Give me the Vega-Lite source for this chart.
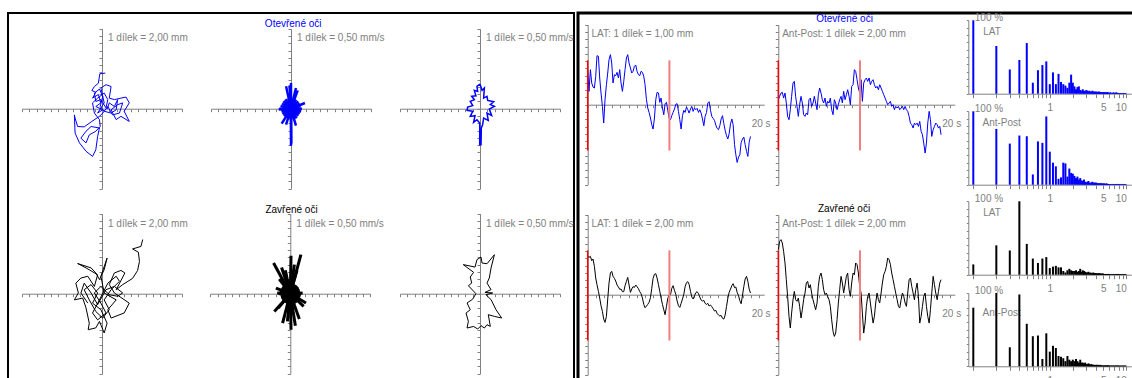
{
"$schema": "https://vega.github.io/schema/vega-lite/v6.json",
"padding": {"left": 7, "top": 10, "right": 0, "bottom": 0},
"background": "white",
"bounds": "flush",
"spacing": 4,
"config": {
  "font": "Liberation Sans",
  "axis": {"grid": false, "domainColor": "#808080", "tickColor": "#808080", "labelColor": "#808080", "titleColor": "#808080", "labelFont": "Liberation Sans", "titleFont": "Liberation Sans", "labelFontSize": 10, "titleFontSize": 10, "titleFontWeight": "normal", "labelOverlap": false, "labelFlush": false, "labelBound": false, "domainWidth": 1, "tickWidth": 1, "titlePadding": 0, "labels": false, "tickSize": 3}
},
"datasets": {
  "cop_o": [
    {"i":1,"x":0.9,"y":9.8},{"i":2,"x":-0.6,"y":9.6},{"i":3,"x":-1.0,"y":7.0},{"i":4,"x":-2.1,"y":6.1},{"i":5,"x":-2.8,"y":5.0},{"i":6,"x":-1.7,"y":4.5},{"i":7,"x":-2.6,"y":2.9},{"i":8,"x":-1.0,"y":3.9},{"i":9,"x":-0.3,"y":1.6},{"i":10,"x":-1.7,"y":0.6},
    {"i":11,"x":0.2,"y":-0.3},{"i":12,"x":-1.2,"y":-1.2},{"i":13,"x":0.6,"y":1.6},{"i":14,"x":-0.3,"y":5.7},{"i":15,"x":1.1,"y":6.6},{"i":16,"x":2.5,"y":6.1},{"i":17,"x":2.0,"y":2.9},{"i":18,"x":3.4,"y":2.5},{"i":19,"x":5.2,"y":2.9},{"i":20,"x":6.6,"y":3.2},
    {"i":21,"x":7.5,"y":1.6},{"i":22,"x":6.1,"y":-0.7},{"i":23,"x":7.5,"y":-3.5},{"i":24,"x":5.2,"y":-2.1},{"i":25,"x":3.9,"y":-3.0},{"i":26,"x":2.5,"y":-0.3},{"i":27,"x":4.3,"y":1.1},{"i":28,"x":5.7,"y":1.6},{"i":29,"x":4.8,"y":-1.2},{"i":30,"x":2.9,"y":-1.7},
    {"i":31,"x":1.6,"y":0.6},{"i":32,"x":0.2,"y":-1.2},{"i":33,"x":-0.7,"y":-2.1},{"i":34,"x":-2.8,"y":-3.5},{"i":35,"x":-4.9,"y":-5.0},{"i":36,"x":-6.7,"y":-4.9},{"i":37,"x":-7.4,"y":-2.6},{"i":38,"x":-7.6,"y":-1.7},{"i":39,"x":-7.4,"y":-6.7},{"i":40,"x":-6.2,"y":-9.4},
    {"i":41,"x":-4.4,"y":-11.7},{"i":42,"x":-2.6,"y":-13.1},{"i":43,"x":-1.7,"y":-11.3},{"i":44,"x":-1.2,"y":-7.6},{"i":45,"x":-0.7,"y":-5.3},{"i":46,"x":-3.0,"y":-4.9},{"i":47,"x":-4.4,"y":-6.2},{"i":48,"x":-5.8,"y":-8.1},{"i":49,"x":-4.4,"y":-9.4},{"i":50,"x":-3.5,"y":-7.2},
    {"i":51,"x":-1.7,"y":-6.2},{"i":52,"x":-0.5,"y":-4.9},{"i":53,"x":-0.7,"y":-3.0},{"i":54,"x":-2.1,"y":-1.2},{"i":55,"x":-2.6,"y":1.6},{"i":56,"x":-1.2,"y":2.9},{"i":57,"x":0.6,"y":4.3},{"i":58,"x":1.6,"y":2.5},{"i":59,"x":1.1,"y":0.2},{"i":60,"x":-0.3,"y":2.5},
    {"i":61,"x":-1.7,"y":2.0},{"i":62,"x":-2.1,"y":4.3},{"i":63,"x":-0.7,"y":5.4},{"i":64,"x":0.2,"y":3.4},{"i":65,"x":-0.5,"y":0.6},{"i":66,"x":0.6,"y":-0.7},{"i":67,"x":2.5,"y":-1.2},{"i":68,"x":3.9,"y":-0.3},{"i":69,"x":4.3,"y":2.5},{"i":70,"x":3.4,"y":0.6},
    {"i":71,"x":2.0,"y":1.6},{"i":72,"x":1.4,"y":-0.1}
  ],
  "cop_c": [
    {"i":1,"x":11.2,"y":14.9},{"i":2,"x":10.7,"y":13.0},{"i":3,"x":8.4,"y":12.3},{"i":4,"x":10.0,"y":11.4},{"i":5,"x":10.3,"y":8.9},{"i":6,"x":9.8,"y":6.4},{"i":7,"x":8.4,"y":4.2},{"i":8,"x":5.7,"y":2.5},{"i":9,"x":3.9,"y":1.1},{"i":10,"x":6.3,"y":5.7},
    {"i":11,"x":5.2,"y":6.4},{"i":12,"x":3.4,"y":5.7},{"i":13,"x":2.0,"y":2.5},{"i":14,"x":3.4,"y":0.2},{"i":15,"x":7.5,"y":-2.6},{"i":16,"x":6.1,"y":-5.3},{"i":17,"x":2.5,"y":-6.7},{"i":18,"x":1.6,"y":-4.4},{"i":19,"x":3.9,"y":-1.7},{"i":20,"x":0.6,"y":0.2},
    {"i":21,"x":-0.3,"y":4.8},{"i":22,"x":1.4,"y":9.8},{"i":23,"x":0.6,"y":6.6},{"i":24,"x":-0.7,"y":3.9},{"i":25,"x":-1.7,"y":5.7},{"i":26,"x":-3.0,"y":7.1},{"i":27,"x":-6.7,"y":8.3},{"i":28,"x":-4.4,"y":7.1},{"i":29,"x":-1.2,"y":5.2},{"i":30,"x":-2.1,"y":2.0},
    {"i":31,"x":-3.9,"y":4.8},{"i":32,"x":-5.8,"y":4.3},{"i":33,"x":-7.2,"y":2.9},{"i":34,"x":-6.5,"y":0.2},{"i":35,"x":-7.6,"y":-1.7},{"i":36,"x":-5.3,"y":-1.2},{"i":37,"x":-4.4,"y":-3.9},{"i":38,"x":-3.5,"y":-8.1},{"i":39,"x":-3.8,"y":-9.9},{"i":40,"x":-1.7,"y":-9.4},
    {"i":41,"x":-0.7,"y":-7.6},{"i":42,"x":0.6,"y":-10.8},{"i":43,"x":1.4,"y":-8.1},{"i":44,"x":-0.3,"y":-4.4},{"i":45,"x":-2.6,"y":-2.6},{"i":46,"x":-1.2,"y":0.2},{"i":47,"x":-3.0,"y":2.5},{"i":48,"x":-4.9,"y":1.1},{"i":49,"x":-3.5,"y":-1.7},{"i":50,"x":-1.7,"y":-4.9},
    {"i":51,"x":0.2,"y":-6.7},{"i":52,"x":2.0,"y":-4.4},{"i":53,"x":0.6,"y":-1.7},{"i":54,"x":2.5,"y":1.1},{"i":55,"x":4.8,"y":3.4},{"i":56,"x":3.9,"y":4.8},{"i":57,"x":1.6,"y":2.9},{"i":58,"x":-0.7,"y":-1.7},{"i":59,"x":-2.6,"y":-5.3},{"i":60,"x":-1.2,"y":-7.2},
    {"i":61,"x":1.1,"y":-5.3},{"i":62,"x":-0.3,"y":-2.6},{"i":63,"x":-2.1,"y":0.2},{"i":64,"x":-0.3,"y":2.0},{"i":65,"x":2.0,"y":-0.3},{"i":66,"x":4.3,"y":-0.7},{"i":67,"x":5.7,"y":0.2},{"i":68,"x":3.4,"y":2.0},{"i":69,"x":1.1,"y":1.1},{"i":70,"x":-1.2,"y":-3.0},
    {"i":71,"x":-3.0,"y":0.2},{"i":72,"x":-4.9,"y":2.9},{"i":73,"x":-5.8,"y":0.2},{"i":74,"x":-3.9,"y":-2.6}
  ],
  "vel_o": [
    {"vx":0.75,"vy":0,"o":0},{"vx":0.66,"vy":0.18,"o":0},{"vx":0.6,"vy":0.35,"o":0},{"vx":0.5,"vy":0.5,"o":0},{"vx":0.35,"vy":0.62,"o":0},{"vx":0.18,"vy":0.68,"o":0},{"vx":0,"vy":0.72,"o":0},{"vx":-0.19,"vy":0.7,"o":0},{"vx":-0.38,"vy":0.65,"o":0},{"vx":-0.52,"vy":0.52,"o":0},{"vx":-0.62,"vy":0.36,"o":0},{"vx":-0.72,"vy":0.19,"o":0},
    {"vx":-0.8,"vy":0,"o":0},{"vx":-0.66,"vy":-0.18,"o":0},{"vx":-0.6,"vy":-0.35,"o":0},{"vx":-0.5,"vy":-0.5,"o":0},{"vx":-0.36,"vy":-0.62,"o":0},{"vx":-0.2,"vy":-0.72,"o":0},{"vx":0,"vy":-0.75,"o":0},{"vx":0.2,"vy":-0.7,"o":0},{"vx":0.38,"vy":-0.66,"o":0},{"vx":0.5,"vy":-0.5,"o":0},{"vx":0.6,"vy":-0.35,"o":0},{"vx":0.7,"vy":-0.19,"o":0},
    {"vx":0.4,"vy":0,"o":0},{"vx":0.35,"vy":0.2,"o":0},{"vx":0.2,"vy":0.35,"o":0},{"vx":0,"vy":0.4,"o":0},{"vx":-0.2,"vy":0.35,"o":0},{"vx":-0.35,"vy":0.2,"o":0},{"vx":-0.4,"vy":0,"o":0},{"vx":-0.35,"vy":-0.2,"o":0},{"vx":-0.2,"vy":-0.35,"o":0},{"vx":0,"vy":-0.4,"o":0},{"vx":0.2,"vy":-0.35,"o":0},{"vx":0.35,"vy":-0.2,"o":0},
    {"vx":0,"vy":1.77,"o":0},{"vx":-0.34,"vy":1.54,"o":0},{"vx":0.34,"vy":1.42,"o":0},{"vx":0.46,"vy":1.26,"o":0},{"vx":0,"vy":-2.55,"o":0},{"vx":-0.64,"vy":-1.03,"o":0},{"vx":-0.34,"vy":-1.1,"o":0},{"vx":0.34,"vy":-1.17,"o":0},{"vx":0.96,"vy":0.39,"o":0},{"vx":-0.85,"vy":-0.05,"o":0},{"vx":0.02,"vy":-2.4,"o":0},{"vx":-0.1,"vy":1.6,"o":0}
  ],
  "vel_c": [
    {"vx":0.75,"vy":0,"o":0},{"vx":0.66,"vy":0.18,"o":0},{"vx":0.6,"vy":0.35,"o":0},{"vx":0.5,"vy":0.5,"o":0},{"vx":0.35,"vy":0.62,"o":0},{"vx":0.18,"vy":0.68,"o":0},{"vx":0,"vy":0.72,"o":0},{"vx":-0.19,"vy":0.7,"o":0},{"vx":-0.38,"vy":0.65,"o":0},{"vx":-0.52,"vy":0.52,"o":0},{"vx":-0.62,"vy":0.36,"o":0},{"vx":-0.72,"vy":0.19,"o":0},
    {"vx":-0.8,"vy":0,"o":0},{"vx":-0.66,"vy":-0.18,"o":0},{"vx":-0.6,"vy":-0.35,"o":0},{"vx":-0.5,"vy":-0.5,"o":0},{"vx":-0.36,"vy":-0.62,"o":0},{"vx":-0.2,"vy":-0.72,"o":0},{"vx":0,"vy":-0.75,"o":0},{"vx":0.2,"vy":-0.7,"o":0},{"vx":0.38,"vy":-0.66,"o":0},{"vx":0.5,"vy":-0.5,"o":0},{"vx":0.6,"vy":-0.35,"o":0},{"vx":0.7,"vy":-0.19,"o":0},
    {"vx":0.73,"vy":2.68,"o":0},{"vx":0.05,"vy":2.61,"o":0},{"vx":-1.15,"vy":2.11,"o":0},{"vx":-0.34,"vy":1.61,"o":0},{"vx":-0.76,"vy":1.01,"o":0},{"vx":0.46,"vy":1.61,"o":0},{"vx":0.28,"vy":2.0,"o":0},{"vx":-0.53,"vy":-2.02,"o":0},{"vx":0.05,"vy":-2.48,"o":0},{"vx":0.62,"vy":-1.74,"o":0},
    {"vx":-1.1,"vy":-1.22,"o":0},{"vx":-0.83,"vy":-0.99,"o":0},{"vx":0.92,"vy":-0.87,"o":0},{"vx":1.08,"vy":-0.64,"o":0},{"vx":0.85,"vy":0.05,"o":0},{"vx":-0.9,"vy":0.05,"o":0},{"vx":-0.99,"vy":0.39,"o":0},{"vx":-0.2,"vy":-1.9,"o":0},{"vx":0.35,"vy":-2.2,"o":0},{"vx":-0.6,"vy":1.8,"o":0}
  ],
  "env_o": [
    {"i":1,"vx":0,"vy":1.7},{"i":2,"vx":0.14,"vy":1.26},{"i":3,"vx":0.3,"vy":1.42},{"i":4,"vx":0.25,"vy":0.73},{"i":5,"vx":0.48,"vy":0.85},{"i":6,"vx":0.53,"vy":0.57},{"i":7,"vx":0.94,"vy":0.48},{"i":8,"vx":0.71,"vy":0.28},{"i":9,"vx":0.99,"vy":0.16},{"i":10,"vx":0.64,"vy":-0.02},
    {"i":11,"vx":0.8,"vy":-0.46},{"i":12,"vx":0.48,"vy":-0.3},{"i":13,"vx":0.57,"vy":-0.8},{"i":14,"vx":0.25,"vy":-0.64},{"i":15,"vx":0.18,"vy":-1.1},{"i":16,"vx":0.09,"vy":-1.33},{"i":17,"vx":0.07,"vy":-2.48},{"i":18,"vx":-0.02,"vy":-2.48},{"i":19,"vx":-0.02,"vy":-0.99},{"i":20,"vx":-0.21,"vy":-0.76},
    {"i":21,"vx":-0.44,"vy":-0.94},{"i":22,"vx":-0.34,"vy":-0.48},{"i":23,"vx":-0.67,"vy":-0.53},{"i":24,"vx":-0.5,"vy":-0.18},{"i":25,"vx":-0.89,"vy":-0.11},{"i":26,"vx":-0.85,"vy":0.11},{"i":27,"vx":-0.5,"vy":0.21},{"i":28,"vx":-0.67,"vy":0.5},{"i":29,"vx":-0.39,"vy":0.62},{"i":30,"vx":-0.57,"vy":0.85},
    {"i":31,"vx":-0.28,"vy":0.89},{"i":32,"vx":-0.39,"vy":1.26},{"i":33,"vx":-0.16,"vy":1.19},{"i":34,"vx":-0.21,"vy":1.54},{"i":35,"vx":0,"vy":1.7}
  ],
  "env_c": [
    {"i":1,"vx":0.07,"vy":2.52},{"i":2,"vx":0.14,"vy":2.11},{"i":3,"vx":0.48,"vy":2.06},{"i":4,"vx":0.99,"vy":2.68},{"i":5,"vx":0.76,"vy":1.77},{"i":6,"vx":0.64,"vy":1.08},{"i":7,"vx":0.48,"vy":0.73},{"i":8,"vx":0.76,"vy":0.28},{"i":9,"vx":0.34,"vy":0.09},{"i":10,"vx":0.87,"vy":0.05},
    {"i":11,"vx":0.41,"vy":-0.07},{"i":12,"vx":0.76,"vy":-0.41},{"i":13,"vx":1.1,"vy":-1.1},{"i":14,"vx":1.49,"vy":-1.67},{"i":15,"vx":0.99,"vy":-1.56},{"i":16,"vx":0.57,"vy":-1.44},{"i":17,"vx":0.71,"vy":-2.25},{"i":18,"vx":0.48,"vy":-2.13},{"i":19,"vx":0.3,"vy":-2.36},{"i":20,"vx":0.07,"vy":-2.2},
    {"i":21,"vx":-0.16,"vy":-2.43},{"i":22,"vx":-0.44,"vy":-2.25},{"i":23,"vx":-0.89,"vy":-2.36},{"i":24,"vx":-0.8,"vy":-1.9},{"i":25,"vx":-0.96,"vy":-1.33},{"i":26,"vx":-0.67,"vy":-1.1},{"i":27,"vx":-0.89,"vy":-0.64},{"i":28,"vx":-0.5,"vy":-0.37},{"i":29,"vx":-0.28,"vy":0},{"i":30,"vx":-0.8,"vy":0.55},
    {"i":31,"vx":-0.57,"vy":0.73},{"i":32,"vx":-0.67,"vy":1.15},{"i":33,"vx":-0.44,"vy":1.47},{"i":34,"vx":-1.15,"vy":2.0},{"i":35,"vx":-0.34,"vy":1.83},{"i":36,"vx":-0.21,"vy":2.34},{"i":37,"vx":0.07,"vy":2.52}
  ],
  "ts": [
    {"t":0,"lat_o":4.82,"ap_o":1.38,"lat_c":10.55,"ap_c":12.38},
    {"t":0.16,"lat_o":1.83,"ap_o":2.29,"lat_c":10.27,"ap_c":14.68},
    {"t":0.33,"lat_o":4.82,"ap_o":3.21,"lat_c":10.55,"ap_c":15.14},
    {"t":0.49,"lat_o":2.98,"ap_o":3.39,"lat_c":9.36,"ap_c":14.22},
    {"t":0.65,"lat_o":2.43,"ap_o":1.83,"lat_c":9.81,"ap_c":11.93},
    {"t":0.82,"lat_o":2.29,"ap_o":3.21,"lat_c":7.8,"ap_c":8.72},
    {"t":0.98,"lat_o":3.9,"ap_o":0.46,"lat_c":4.59,"ap_c":4.13},
    {"t":1.14,"lat_o":6.74,"ap_o":-3.21,"lat_c":2.75,"ap_c":-0.46},
    {"t":1.31,"lat_o":6.65,"ap_o":-4.13,"lat_c":0.92,"ap_c":-5.96},
    {"t":1.47,"lat_o":3.67,"ap_o":-1.38,"lat_c":-0.92,"ap_c":-9.17},
    {"t":1.63,"lat_o":1.61,"ap_o":2.29,"lat_c":-3.03,"ap_c":-5.05},
    {"t":1.8,"lat_o":-0.23,"ap_o":5.96,"lat_c":-4.59,"ap_c":-1.38},
    {"t":1.96,"lat_o":-2.52,"ap_o":6.42,"lat_c":-6.7,"ap_c":0.92},
    {"t":2.12,"lat_o":0.69,"ap_o":2.29,"lat_c":-7.61,"ap_c":-1.38},
    {"t":2.29,"lat_o":2.75,"ap_o":-0.46,"lat_c":-5.96,"ap_c":-1.83},
    {"t":2.45,"lat_o":4.36,"ap_o":-3.21,"lat_c":-1.19,"ap_c":-0.92},
    {"t":2.61,"lat_o":6.19,"ap_o":0,"lat_c":3.21,"ap_c":-3.21},
    {"t":2.78,"lat_o":6.88,"ap_o":2.29,"lat_c":5.96,"ap_c":-6.42},
    {"t":2.94,"lat_o":5.73,"ap_o":0.46,"lat_c":6.42,"ap_c":-4.13},
    {"t":3.1,"lat_o":2.98,"ap_o":-2.75,"lat_c":5.05,"ap_c":-1.38},
    {"t":3.27,"lat_o":4.13,"ap_o":-3.21,"lat_c":4.5,"ap_c":0.46},
    {"t":3.43,"lat_o":3.99,"ap_o":-2.29,"lat_c":3.76,"ap_c":3.21},
    {"t":3.59,"lat_o":4.45,"ap_o":-2.75,"lat_c":2.66,"ap_c":3.67},
    {"t":3.76,"lat_o":3.67,"ap_o":1.38,"lat_c":2.11,"ap_c":1.83},
    {"t":3.92,"lat_o":4.82,"ap_o":1.83,"lat_c":1.47,"ap_c":2.75},
    {"t":4.08,"lat_o":2.98,"ap_o":-0.46,"lat_c":1.56,"ap_c":0.46},
    {"t":4.25,"lat_o":1.83,"ap_o":0.46,"lat_c":0.83,"ap_c":-1.38},
    {"t":4.41,"lat_o":3.21,"ap_o":2.29,"lat_c":0.83,"ap_c":-2.75},
    {"t":4.57,"lat_o":4.82,"ap_o":0.46,"lat_c":2.48,"ap_c":-4.13},
    {"t":4.74,"lat_o":6.42,"ap_o":-1.38,"lat_c":3.67,"ap_c":-2.29},
    {"t":4.9,"lat_o":6.88,"ap_o":2.75,"lat_c":4.77,"ap_c":2.29},
    {"t":5.06,"lat_o":5.73,"ap_o":4.59,"lat_c":2.66,"ap_c":5.05},
    {"t":5.23,"lat_o":5.05,"ap_o":3.21,"lat_c":0.64,"ap_c":5.96},
    {"t":5.39,"lat_o":4.36,"ap_o":1.38,"lat_c":1.56,"ap_c":4.13},
    {"t":5.55,"lat_o":4.59,"ap_o":0.46,"lat_c":2.2,"ap_c":1.38},
    {"t":5.72,"lat_o":5.28,"ap_o":1.83,"lat_c":2.02,"ap_c":0},
    {"t":5.88,"lat_o":5.46,"ap_o":-0.46,"lat_c":2.66,"ap_c":0.46},
    {"t":6.04,"lat_o":4.59,"ap_o":0.92,"lat_c":2.2,"ap_c":-0.46},
    {"t":6.21,"lat_o":4.13,"ap_o":0.46,"lat_c":1.65,"ap_c":-1.38},
    {"t":6.37,"lat_o":3.99,"ap_o":1.83,"lat_c":0.83,"ap_c":-3.21},
    {"t":6.53,"lat_o":4.59,"ap_o":-1.38,"lat_c":0.28,"ap_c":-6.88},
    {"t":6.7,"lat_o":4.45,"ap_o":-2.75,"lat_c":-0.92,"ap_c":-10.09},
    {"t":6.86,"lat_o":3.9,"ap_o":1.38,"lat_c":-2.66,"ap_c":-11.47},
    {"t":7.02,"lat_o":2.75,"ap_o":0.46,"lat_c":-3.58,"ap_c":-10.55},
    {"t":7.19,"lat_o":0.69,"ap_o":-1.38,"lat_c":-3.12,"ap_c":-6.88},
    {"t":7.35,"lat_o":-0.46,"ap_o":0,"lat_c":-2.66,"ap_c":-2.29},
    {"t":7.51,"lat_o":-1.06,"ap_o":1.38,"lat_c":-2.11,"ap_c":1.38},
    {"t":7.68,"lat_o":-1.83,"ap_o":2.29,"lat_c":-0.83,"ap_c":5.05},
    {"t":7.84,"lat_o":-2.75,"ap_o":0.46,"lat_c":1.74,"ap_c":3.21},
    {"t":8.0,"lat_o":-3.35,"ap_o":3.67,"lat_c":4.5,"ap_c":0.46},
    {"t":8.17,"lat_o":-1.83,"ap_o":1.38,"lat_c":5.6,"ap_c":2.75},
    {"t":8.33,"lat_o":0.69,"ap_o":2.75,"lat_c":5.78,"ap_c":5.05},
    {"t":8.49,"lat_o":1.7,"ap_o":4.13,"lat_c":4.59,"ap_c":5.96},
    {"t":8.66,"lat_o":1.61,"ap_o":2.29,"lat_c":2.75,"ap_c":1.38},
    {"t":8.82,"lat_o":0.32,"ap_o":0,"lat_c":0.92,"ap_c":-0.46},
    {"t":8.98,"lat_o":0.92,"ap_o":5.05,"lat_c":-0.92,"ap_c":3.21},
    {"t":9.15,"lat_o":-0.46,"ap_o":5.5,"lat_c":-2.66,"ap_c":5.96},
    {"t":9.31,"lat_o":-1.38,"ap_o":9.63,"lat_c":-4.13,"ap_c":5.5},
    {"t":9.47,"lat_o":0.14,"ap_o":9.17,"lat_c":-5.5,"ap_c":8.72},
    {"t":9.64,"lat_o":0.32,"ap_o":6.88,"lat_c":-3.21,"ap_c":8.26},
    {"t":9.8,"lat_o":-0.78,"ap_o":4.59,"lat_c":-1.01,"ap_c":5.96},
    {"t":9.96,"lat_o":-1.83,"ap_o":3.21,"lat_c":-0.09,"ap_c":2.29},
    {"t":10.13,"lat_o":-2.06,"ap_o":6.88,"lat_c":0,"ap_c":0.46},
    {"t":10.29,"lat_o":-1.51,"ap_o":0.92,"lat_c":1.74,"ap_c":-5.05},
    {"t":10.45,"lat_o":-1.06,"ap_o":5.96,"lat_c":2.48,"ap_c":-10.55},
    {"t":10.62,"lat_o":-0.6,"ap_o":6.88,"lat_c":1.19,"ap_c":-7.8},
    {"t":10.78,"lat_o":0.05,"ap_o":7.34,"lat_c":0.09,"ap_c":-3.21},
    {"t":10.94,"lat_o":0.14,"ap_o":6.42,"lat_c":-1.74,"ap_c":-0.46},
    {"t":11.11,"lat_o":-0.92,"ap_o":7.34,"lat_c":-3.03,"ap_c":0.46},
    {"t":11.27,"lat_o":-2.06,"ap_o":5.5,"lat_c":-3.49,"ap_c":-2.29},
    {"t":11.43,"lat_o":-3.35,"ap_o":6.42,"lat_c":-2.39,"ap_c":-5.05},
    {"t":11.6,"lat_o":-1.51,"ap_o":6.88,"lat_c":-1.19,"ap_c":-7.8},
    {"t":11.76,"lat_o":-0.78,"ap_o":5.5,"lat_c":0.09,"ap_c":-5.96},
    {"t":11.92,"lat_o":-1.06,"ap_o":4.59,"lat_c":2.2,"ap_c":-2.29},
    {"t":12.09,"lat_o":-0.32,"ap_o":5.05,"lat_c":3.3,"ap_c":0.46},
    {"t":12.25,"lat_o":-0.69,"ap_o":4.13,"lat_c":3.58,"ap_c":-1.38},
    {"t":12.41,"lat_o":-1.15,"ap_o":5.5,"lat_c":2.84,"ap_c":-2.29},
    {"t":12.58,"lat_o":-0.6,"ap_o":4.59,"lat_c":0.92,"ap_c":0.46},
    {"t":12.74,"lat_o":-0.23,"ap_o":3.67,"lat_c":-0.64,"ap_c":3.21},
    {"t":12.9,"lat_o":-0.92,"ap_o":2.75,"lat_c":-1.19,"ap_c":5.5},
    {"t":13.07,"lat_o":-0.46,"ap_o":1.83,"lat_c":-0.28,"ap_c":6.42},
    {"t":13.23,"lat_o":-0.69,"ap_o":0.92,"lat_c":0.55,"ap_c":7.8},
    {"t":13.39,"lat_o":-0.5,"ap_o":0,"lat_c":0.83,"ap_c":10.09},
    {"t":13.56,"lat_o":-1.06,"ap_o":0.46,"lat_c":0.28,"ap_c":9.63},
    {"t":13.72,"lat_o":-0.69,"ap_o":0.92,"lat_c":-0.64,"ap_c":8.26},
    {"t":13.88,"lat_o":-1.15,"ap_o":-0.46,"lat_c":-1.47,"ap_c":5.96},
    {"t":14.05,"lat_o":-1.97,"ap_o":0,"lat_c":-1.74,"ap_c":4.13},
    {"t":14.21,"lat_o":-2.89,"ap_o":-1.38,"lat_c":-1.56,"ap_c":2.29},
    {"t":14.37,"lat_o":-1.61,"ap_o":-0.46,"lat_c":-2.39,"ap_c":0.46},
    {"t":14.54,"lat_o":-1.06,"ap_o":-0.92,"lat_c":-2.66,"ap_c":-1.38},
    {"t":14.7,"lat_o":0.23,"ap_o":-0.46,"lat_c":-2.39,"ap_c":-3.21},
    {"t":14.86,"lat_o":0.41,"ap_o":-1.38,"lat_c":-3.12,"ap_c":-3.67},
    {"t":15.03,"lat_o":-0.78,"ap_o":-0.92,"lat_c":-2.84,"ap_c":-1.38},
    {"t":15.19,"lat_o":-1.61,"ap_o":-0.46,"lat_c":-3.3,"ap_c":0.46},
    {"t":15.35,"lat_o":-1.88,"ap_o":-1.38,"lat_c":-3.85,"ap_c":-0.46},
    {"t":15.52,"lat_o":-2.16,"ap_o":-0.46,"lat_c":-4.5,"ap_c":-2.29},
    {"t":15.68,"lat_o":-2.8,"ap_o":-1.38,"lat_c":-4.31,"ap_c":-3.21},
    {"t":15.84,"lat_o":-3.26,"ap_o":-1.83,"lat_c":-5.14,"ap_c":0.46},
    {"t":16.01,"lat_o":-3.44,"ap_o":-3.21,"lat_c":-5.6,"ap_c":4.13},
    {"t":16.17,"lat_o":-2.89,"ap_o":-5.05,"lat_c":-5.87,"ap_c":4.59},
    {"t":16.33,"lat_o":-1.97,"ap_o":-5.5,"lat_c":-5.69,"ap_c":2.29},
    {"t":16.5,"lat_o":-1.51,"ap_o":-6.42,"lat_c":-6.51,"ap_c":0.46},
    {"t":16.66,"lat_o":-2.61,"ap_o":-5.05,"lat_c":-6.7,"ap_c":-1.38},
    {"t":16.82,"lat_o":-3.53,"ap_o":-5.5,"lat_c":-5.6,"ap_c":1.38},
    {"t":16.99,"lat_o":-4.27,"ap_o":-5.05,"lat_c":-3.21,"ap_c":3.21},
    {"t":17.15,"lat_o":-4.72,"ap_o":-5.96,"lat_c":-1.01,"ap_c":-0.46},
    {"t":17.31,"lat_o":-3.99,"ap_o":-4.59,"lat_c":0.64,"ap_c":-7.8},
    {"t":17.48,"lat_o":-2.61,"ap_o":-7.34,"lat_c":1.56,"ap_c":-5.96},
    {"t":17.64,"lat_o":-1.97,"ap_o":-8.26,"lat_c":2.48,"ap_c":-3.21},
    {"t":17.8,"lat_o":-2.75,"ap_o":-10.55,"lat_c":3.03,"ap_c":-0.46},
    {"t":17.97,"lat_o":-5.5,"ap_o":-13.3,"lat_c":1.93,"ap_c":0.46},
    {"t":18.13,"lat_o":-6.88,"ap_o":-10.55,"lat_c":2.11,"ap_c":-3.21},
    {"t":18.29,"lat_o":-7.94,"ap_o":-5.05,"lat_c":0.64,"ap_c":-5.96},
    {"t":18.46,"lat_o":-7.2,"ap_o":-1.83,"lat_c":-0.28,"ap_c":-7.8},
    {"t":18.62,"lat_o":-6.88,"ap_o":-4.13,"lat_c":-1.65,"ap_c":-4.13},
    {"t":18.78,"lat_o":-5.18,"ap_o":-8.72,"lat_c":-2.48,"ap_c":0.46},
    {"t":18.95,"lat_o":-4.72,"ap_o":-6.88,"lat_c":-0.09,"ap_c":5.05},
    {"t":19.11,"lat_o":-4.45,"ap_o":-5.96,"lat_c":2.29,"ap_c":2.75},
    {"t":19.27,"lat_o":-5.5,"ap_o":-5.05,"lat_c":4.31,"ap_c":0.46},
    {"t":19.44,"lat_o":-6.42,"ap_o":-5.5,"lat_c":5.05,"ap_c":-1.38},
    {"t":19.6,"lat_o":-7.11,"ap_o":-6.42,"lat_c":3.67,"ap_c":0.92},
    {"t":19.76,"lat_o":-5.18,"ap_o":-5.96,"lat_c":1.56,"ap_c":3.21},
    {"t":19.92,"lat_o":-4.36,"ap_o":-8.26,"lat_c":0.46,"ap_c":4.13}
  ],
  "spec": [
    {"f":0.1,"lat_o":100,"ap_o":100,"lat_c":14,"ap_c":80},{"f":0.2,"lat_o":65,"ap_o":76,"lat_c":40,"ap_c":100},{"f":0.3,"lat_o":33,"ap_o":56,"lat_c":33,"ap_c":26},{"f":0.4,"lat_o":46,"ap_o":67,"lat_c":100,"ap_c":98},{"f":0.5,"lat_o":69,"ap_o":66,"lat_c":42,"ap_c":58},
    {"f":0.6,"lat_o":15,"ap_o":14,"lat_c":22,"ap_c":41},{"f":0.7,"lat_o":32,"ap_o":59,"lat_c":16,"ap_c":42},{"f":0.8,"lat_o":39,"ap_o":57,"lat_c":22,"ap_c":10},{"f":0.9,"lat_o":44,"ap_o":93,"lat_c":24,"ap_c":45},{"f":1,"lat_o":13,"ap_o":45,"lat_c":9,"ap_c":20},
    {"f":1.1,"lat_o":29,"ap_o":30,"lat_c":11,"ap_c":28},{"f":1.2,"lat_o":13,"ap_o":25,"lat_c":12,"ap_c":25},{"f":1.3,"lat_o":27,"ap_o":8,"lat_c":10,"ap_c":14},{"f":1.4,"lat_o":16,"ap_o":10,"lat_c":10,"ap_c":13},{"f":1.5,"lat_o":13,"ap_o":30,"lat_c":5,"ap_c":11},
    {"f":1.6,"lat_o":11,"ap_o":29,"lat_c":3,"ap_c":7},{"f":1.7,"lat_o":8,"ap_o":11,"lat_c":6,"ap_c":14},{"f":1.8,"lat_o":15,"ap_o":22,"lat_c":8,"ap_c":9},{"f":1.9,"lat_o":26,"ap_o":16,"lat_c":6,"ap_c":7},{"f":2,"lat_o":15,"ap_o":15,"lat_c":5,"ap_c":9},
    {"f":2.1,"lat_o":10,"ap_o":12,"lat_c":5,"ap_c":7},{"f":2.2,"lat_o":6,"ap_o":9,"lat_c":6,"ap_c":10},{"f":2.3,"lat_o":9,"ap_o":11,"lat_c":4,"ap_c":7},{"f":2.4,"lat_o":10,"ap_o":7,"lat_c":5,"ap_c":5},{"f":2.5,"lat_o":5,"ap_o":9,"lat_c":8,"ap_c":9},
    {"f":2.6,"lat_o":4,"ap_o":6,"lat_c":4,"ap_c":5},{"f":2.7,"lat_o":6,"ap_o":5,"lat_c":6,"ap_c":5},{"f":2.8,"lat_o":4,"ap_o":7,"lat_c":5,"ap_c":4},{"f":2.9,"lat_o":3,"ap_o":4,"lat_c":4,"ap_c":5},{"f":3,"lat_o":5,"ap_o":3,"lat_c":3,"ap_c":3},
    {"f":3.1,"lat_o":4,"ap_o":4,"lat_c":3,"ap_c":3},{"f":3.2,"lat_o":3,"ap_o":5,"lat_c":4,"ap_c":4},{"f":3.3,"lat_o":4,"ap_o":3,"lat_c":2,"ap_c":3},{"f":3.4,"lat_o":2,"ap_o":2,"lat_c":3,"ap_c":2},{"f":3.5,"lat_o":3,"ap_o":3,"lat_c":2,"ap_c":3},
    {"f":3.6,"lat_o":4,"ap_o":4,"lat_c":2,"ap_c":2},{"f":3.7,"lat_o":3,"ap_o":2,"lat_c":3,"ap_c":2},{"f":3.8,"lat_o":2,"ap_o":3,"lat_c":2,"ap_c":2},{"f":3.9,"lat_o":3,"ap_o":2,"lat_c":2,"ap_c":1},{"f":4,"lat_o":2,"ap_o":3,"lat_c":2,"ap_c":2},
    {"f":4.1,"lat_o":3,"ap_o":2,"lat_c":2,"ap_c":2},{"f":4.2,"lat_o":2,"ap_o":2,"lat_c":1,"ap_c":1},{"f":4.3,"lat_o":2,"ap_o":2,"lat_c":2,"ap_c":2},{"f":4.4,"lat_o":3,"ap_o":1,"lat_c":2,"ap_c":1},{"f":4.5,"lat_o":2,"ap_o":2,"lat_c":1,"ap_c":1},
    {"f":4.6,"lat_o":2,"ap_o":2,"lat_c":2,"ap_c":2},{"f":4.7,"lat_o":2,"ap_o":1,"lat_c":1,"ap_c":1},{"f":4.8,"lat_o":1,"ap_o":2,"lat_c":1,"ap_c":1},{"f":4.9,"lat_o":2,"ap_o":1,"lat_c":2,"ap_c":1},{"f":5,"lat_o":2,"ap_o":1,"lat_c":1,"ap_c":1},
    {"f":5.1,"lat_o":2,"ap_o":2,"lat_c":1,"ap_c":1},{"f":5.2,"lat_o":1,"ap_o":1,"lat_c":1,"ap_c":1},{"f":5.3,"lat_o":2,"ap_o":1,"lat_c":1,"ap_c":1},{"f":5.4,"lat_o":1,"ap_o":1,"lat_c":1,"ap_c":1},{"f":5.5,"lat_o":2,"ap_o":2,"lat_c":1,"ap_c":1},
    {"f":5.6,"lat_o":2,"ap_o":1,"lat_c":1,"ap_c":1},{"f":5.7,"lat_o":1,"ap_o":1,"lat_c":1,"ap_c":1},{"f":5.8,"lat_o":2,"ap_o":1,"lat_c":1,"ap_c":1},{"f":5.9,"lat_o":1,"ap_o":1,"lat_c":1,"ap_c":1},{"f":6,"lat_o":1,"ap_o":1,"lat_c":1,"ap_c":1},
    {"f":6.2,"lat_o":2,"ap_o":1,"lat_c":1,"ap_c":1},{"f":6.4,"lat_o":1,"ap_o":1,"lat_c":1,"ap_c":1},{"f":6.6,"lat_o":1,"ap_o":1,"lat_c":1,"ap_c":1},{"f":6.8,"lat_o":2,"ap_o":1,"lat_c":1,"ap_c":1},{"f":7,"lat_o":1,"ap_o":1,"lat_c":1,"ap_c":1},
    {"f":7.2,"lat_o":1,"ap_o":1,"lat_c":1,"ap_c":1},{"f":7.4,"lat_o":2,"ap_o":1,"lat_c":1,"ap_c":1},{"f":7.6,"lat_o":1,"ap_o":1,"lat_c":1,"ap_c":1},{"f":7.8,"lat_o":1,"ap_o":1,"lat_c":1,"ap_c":1},{"f":8,"lat_o":1,"ap_o":1,"lat_c":1,"ap_c":1},
    {"f":8.3,"lat_o":1,"ap_o":1,"lat_c":1,"ap_c":1},{"f":8.6,"lat_o":1,"ap_o":1,"lat_c":1,"ap_c":1},{"f":8.9,"lat_o":1,"ap_o":1,"lat_c":1,"ap_c":1},{"f":9.2,"lat_o":1,"ap_o":1,"lat_c":1,"ap_c":1},{"f":9.5,"lat_o":1,"ap_o":1,"lat_c":1,"ap_c":1},
    {"f":9.8,"lat_o":1,"ap_o":1,"lat_c":1,"ap_c":1}
  ],
  "ev_1mm": [{"t": 0, "lo": -6.3, "hi": 6.1}, {"t": 10, "lo": -6.3, "hi": 6.1}],
  "ev_2mm": [{"t": 0, "lo": -12.6, "hi": 12.2}, {"t": 10, "lo": -12.6, "hi": 12.2}]
},
"hconcat": [
  {
    "width": 566, "height": 370,
    "view": {"stroke": "#000000", "strokeWidth": 2, "fill": null},
    "resolve": {"scale": {"x": "independent", "y": "independent"}},
    "layer": [
      {
        "data": {"name": "cop_o"},
        "mark": {"type": "line", "color": "#0000ff", "strokeWidth": 1},
        "encoding": {
          "x": {"field": "x", "type": "quantitative", "scale": {"domain": [-22, 22], "range": [14, 174], "nice": false},
                "axis": {"orient": "bottom", "offset": -274.3, "title": null, "values": [-22,-20,-18,-16,-14,-12,-10,-8,-6,-4,-2,0,2,4,6,8,10,12,14,16,18,20,22],
                         "encode": {"ticks": {"y": {"condition": {"test": "abs(datum.value) % 10 < 0.01", "value": -3}, "value": -1.5}, "y2": {"condition": {"test": "abs(datum.value) % 10 < 0.01", "value": 3}, "value": 1.5}}}}},
          "y": {"field": "y", "type": "quantitative", "scale": {"domain": [-22, 22], "range": [175.7, 15.7], "nice": false},
                "axis": {"orient": "left", "offset": -94, "values": [-22,-20,-18,-16,-14,-12,-10,-8,-6,-4,-2,0,2,4,6,8,10,12,14,16,18,20,22],
                         "title": "1 dílek = 2,00 mm", "titleAngle": 0, "titleAlign": "left", "titleBaseline": "middle", "titleX": 5.5, "titleY": 24,
                         "encode": {"ticks": {"x": {"condition": {"test": "abs(datum.value) % 10 < 0.01", "value": -3}, "value": -1.5}, "x2": {"condition": {"test": "abs(datum.value) % 10 < 0.01", "value": 3}, "value": 1.5}}}}},
          "order": {"field": "i", "type": "quantitative"}
        }
      },
      {
        "data": {"name": "vel_o"},
        "mark": {"type": "rule", "color": "#0000ff", "strokeWidth": 2.5},
        "encoding": {
          "x": {"field": "vx", "type": "quantitative", "scale": {"domain": [-5.5, 5.5], "range": [203, 363], "nice": false},
                "axis": {"orient": "bottom", "offset": -274.3, "values": [-5.5,-5,-4.5,-4,-3.5,-3,-2.5,-2,-1.5,-1,-0.5,0,0.5,1,1.5,2,2.5,3,3.5,4,4.5,5,5.5],
                         "title": "Otevřené oči", "titleColor": "#0000ff", "titleAlign": "center", "titleBaseline": "middle", "titleX": 284.7, "titleY": -85.7,
                         "encode": {"ticks": {"y": {"condition": {"test": "abs(datum.value) % 2.5 < 0.01", "value": -3}, "value": -1.5}, "y2": {"condition": {"test": "abs(datum.value) % 2.5 < 0.01", "value": 3}, "value": 1.5}}}}},
          "y": {"field": "vy", "type": "quantitative", "scale": {"domain": [-5.5, 5.5], "range": [175.7, 15.7], "nice": false},
                "axis": {"orient": "left", "offset": -283, "values": [-5.5,-5,-4.5,-4,-3.5,-3,-2.5,-2,-1.5,-1,-0.5,0,0.5,1,1.5,2,2.5,3,3.5,4,4.5,5,5.5],
                         "title": "1 dílek = 0,50 mm/s", "titleAngle": 0, "titleAlign": "left", "titleBaseline": "middle", "titleX": 5.5, "titleY": 24,
                         "encode": {"ticks": {"x": {"condition": {"test": "abs(datum.value) % 2.5 < 0.01", "value": -3}, "value": -1.5}, "x2": {"condition": {"test": "abs(datum.value) % 2.5 < 0.01", "value": 3}, "value": 1.5}}}}},
          "x2": {"field": "o"},
          "y2": {"field": "o"}
        }
      },
      {
        "data": {"name": "env_o"},
        "mark": {"type": "line", "color": "#0000ff", "strokeWidth": 1.5},
        "encoding": {
          "x": {"field": "vx", "type": "quantitative", "scale": {"domain": [-5.5, 5.5], "range": [392, 552], "nice": false},
                "axis": {"orient": "bottom", "offset": -274.3, "title": null, "values": [-5.5,-5,-4.5,-4,-3.5,-3,-2.5,-2,-1.5,-1,-0.5,0,0.5,1,1.5,2,2.5,3,3.5,4,4.5,5,5.5],
                         "encode": {"ticks": {"y": {"condition": {"test": "abs(datum.value) % 2.5 < 0.01", "value": -3}, "value": -1.5}, "y2": {"condition": {"test": "abs(datum.value) % 2.5 < 0.01", "value": 3}, "value": 1.5}}}}},
          "y": {"field": "vy", "type": "quantitative", "scale": {"domain": [-5.5, 5.5], "range": [175.7, 15.7], "nice": false},
                "axis": {"orient": "left", "offset": -472, "values": [-5.5,-5,-4.5,-4,-3.5,-3,-2.5,-2,-1.5,-1,-0.5,0,0.5,1,1.5,2,2.5,3,3.5,4,4.5,5,5.5],
                         "title": "1 dílek = 0,50 mm/s", "titleAngle": 0, "titleAlign": "left", "titleBaseline": "middle", "titleX": 5.5, "titleY": 24,
                         "encode": {"ticks": {"x": {"condition": {"test": "abs(datum.value) % 2.5 < 0.01", "value": -3}, "value": -1.5}, "x2": {"condition": {"test": "abs(datum.value) % 2.5 < 0.01", "value": 3}, "value": 1.5}}}}},
          "order": {"field": "i", "type": "quantitative"}
        }
      },
      {
        "data": {"name": "cop_c"},
        "mark": {"type": "line", "color": "#000000", "strokeWidth": 1},
        "encoding": {
          "x": {"field": "x", "type": "quantitative", "scale": {"domain": [-22, 22], "range": [14, 174], "nice": false},
                "axis": {"orient": "bottom", "offset": -89.3, "title": null, "values": [-22,-20,-18,-16,-14,-12,-10,-8,-6,-4,-2,0,2,4,6,8,10,12,14,16,18,20,22],
                         "encode": {"ticks": {"y": {"condition": {"test": "abs(datum.value) % 10 < 0.01", "value": -3}, "value": -1.5}, "y2": {"condition": {"test": "abs(datum.value) % 10 < 0.01", "value": 3}, "value": 1.5}}}}},
          "y": {"field": "y", "type": "quantitative", "scale": {"domain": [-22, 22], "range": [360.7, 200.7], "nice": false},
                "axis": {"orient": "left", "offset": -94, "values": [-22,-20,-18,-16,-14,-12,-10,-8,-6,-4,-2,0,2,4,6,8,10,12,14,16,18,20,22],
                         "title": "1 dílek = 2,00 mm", "titleAngle": 0, "titleAlign": "left", "titleBaseline": "middle", "titleX": 5.5, "titleY": 210.7,
                         "encode": {"ticks": {"x": {"condition": {"test": "abs(datum.value) % 10 < 0.01", "value": -3}, "value": -1.5}, "x2": {"condition": {"test": "abs(datum.value) % 10 < 0.01", "value": 3}, "value": 1.5}}}}},
          "order": {"field": "i", "type": "quantitative"}
        }
      },
      {
        "data": {"name": "vel_c"},
        "mark": {"type": "rule", "color": "#000000", "strokeWidth": 3},
        "encoding": {
          "x": {"field": "vx", "type": "quantitative", "scale": {"domain": [-5.5, 5.5], "range": [202.3, 362.3], "nice": false},
                "axis": {"orient": "bottom", "offset": -89.3, "values": [-5.5,-5,-4.5,-4,-3.5,-3,-2.5,-2,-1.5,-1,-0.5,0,0.5,1,1.5,2,2.5,3,3.5,4,4.5,5,5.5],
                         "title": "Zavřené oči", "titleColor": "#000000", "titleAlign": "center", "titleBaseline": "middle", "titleX": 283, "titleY": -84.7,
                         "encode": {"ticks": {"y": {"condition": {"test": "abs(datum.value) % 2.5 < 0.01", "value": -3}, "value": -1.5}, "y2": {"condition": {"test": "abs(datum.value) % 2.5 < 0.01", "value": 3}, "value": 1.5}}}}},
          "y": {"field": "vy", "type": "quantitative", "scale": {"domain": [-5.5, 5.5], "range": [360.7, 200.7], "nice": false},
                "axis": {"orient": "left", "offset": -282.3, "values": [-5.5,-5,-4.5,-4,-3.5,-3,-2.5,-2,-1.5,-1,-0.5,0,0.5,1,1.5,2,2.5,3,3.5,4,4.5,5,5.5],
                         "title": "1 dílek = 0,50 mm/s", "titleAngle": 0, "titleAlign": "left", "titleBaseline": "middle", "titleX": 5.5, "titleY": 210.7,
                         "encode": {"ticks": {"x": {"condition": {"test": "abs(datum.value) % 2.5 < 0.01", "value": -3}, "value": -1.5}, "x2": {"condition": {"test": "abs(datum.value) % 2.5 < 0.01", "value": 3}, "value": 1.5}}}}},
          "x2": {"field": "o"},
          "y2": {"field": "o"}
        }
      },
      {
        "data": {"name": "env_c"},
        "mark": {"type": "line", "color": "#000000", "strokeWidth": 1},
        "encoding": {
          "x": {"field": "vx", "type": "quantitative", "scale": {"domain": [-5.5, 5.5], "range": [392, 552], "nice": false},
                "axis": {"orient": "bottom", "offset": -89.3, "title": null, "values": [-5.5,-5,-4.5,-4,-3.5,-3,-2.5,-2,-1.5,-1,-0.5,0,0.5,1,1.5,2,2.5,3,3.5,4,4.5,5,5.5],
                         "encode": {"ticks": {"y": {"condition": {"test": "abs(datum.value) % 2.5 < 0.01", "value": -3}, "value": -1.5}, "y2": {"condition": {"test": "abs(datum.value) % 2.5 < 0.01", "value": 3}, "value": 1.5}}}}},
          "y": {"field": "vy", "type": "quantitative", "scale": {"domain": [-5.5, 5.5], "range": [360.7, 200.7], "nice": false},
                "axis": {"orient": "left", "offset": -472, "values": [-5.5,-5,-4.5,-4,-3.5,-3,-2.5,-2,-1.5,-1,-0.5,0,0.5,1,1.5,2,2.5,3,3.5,4,4.5,5,5.5],
                         "title": "1 dílek = 0,50 mm/s", "titleAngle": 0, "titleAlign": "left", "titleBaseline": "middle", "titleX": 5.5, "titleY": 210.7,
                         "encode": {"ticks": {"x": {"condition": {"test": "abs(datum.value) % 2.5 < 0.01", "value": -3}, "value": -1.5}, "x2": {"condition": {"test": "abs(datum.value) % 2.5 < 0.01", "value": 3}, "value": 1.5}}}}},
          "order": {"field": "i", "type": "quantitative"}
        }
      }
    ]
  },
  {
    "width": 570, "height": 370,
    "view": {"stroke": "#000000", "strokeWidth": 3, "fill": null},
    "resolve": {"scale": {"x": "independent", "y": "independent"}},
    "layer": [
      {
        "data": {"name": "ts"},
        "mark": {"type": "line", "color": "#0000ff", "strokeWidth": 1},
        "encoding": {
          "x": {"field": "t", "type": "quantitative", "scale": {"domain": [0, 21.6], "range": [9.7, 186.2], "nice": false},
                "axis": {"orient": "bottom", "offset": -278.3, "title": null, "values": [0,1,2,3,4,5,6,7,8,9,10,11,12,13,14,15,16,17,18,19,20,21],
                         "labels": true, "labelExpr": "datum.value == 20 ? '20 s' : ''", "labelAlign": "left", "labelBaseline": "middle", "labelPadding": 16,
                         "encode": {"ticks": {"y": {"condition": {"test": "datum.value % 5 == 0", "value": -6}, "value": -2.5}, "y2": {"condition": {"test": "datum.value % 5 == 0", "value": 6}, "value": 2.5}}}}},
          "y": {"field": "lat_o", "type": "quantitative", "scale": {"domain": [-11, 11], "range": [171.7, 11.7], "nice": false},
                "axis": {"orient": "left", "offset": -9.7, "values": [-11,-10,-9,-8,-7,-6,-5,-4,-3,-2,-1,0,1,2,3,4,5,6,7,8,9,10,11],
                         "title": "LAT: 1 dílek = 1,00 mm", "titleAngle": 0, "titleAlign": "left", "titleBaseline": "middle", "titleX": 3.3, "titleY": 20.7,
                         "encode": {"ticks": {"x": {"condition": {"test": "abs(datum.value) % 5 < 0.01", "value": -4}, "value": -2}, "x2": {"condition": {"test": "abs(datum.value) % 5 < 0.01", "value": 4}, "value": 2}}}}}
        }
      },
      {
        "data": {"name": "ev_1mm"},
        "mark": {"type": "rule"},
        "encoding": {
          "x": {"field": "t", "type": "quantitative", "scale": {"domain": [0, 21.6], "range": [9.7, 186.2], "nice": false}, "axis": null},
          "y": {"field": "lo", "type": "quantitative", "scale": {"domain": [-11, 11], "range": [171.7, 11.7], "nice": false}, "axis": null},
          "y2": {"field": "hi"},
          "color": {"condition": {"test": "datum.t == 0", "value": "#ff0000"}, "value": "#f08080"},
          "strokeWidth": {"condition": {"test": "datum.t == 0", "value": 1.5}, "value": 2}
        }
      },
      {
        "data": {"name": "ts"},
        "mark": {"type": "line", "color": "#0000ff", "strokeWidth": 1},
        "encoding": {
          "x": {"field": "t", "type": "quantitative", "scale": {"domain": [0, 21.6], "range": [200.3, 376.8], "nice": false},
                "axis": {"orient": "bottom", "offset": -278.3, "values": [0,1,2,3,4,5,6,7,8,9,10,11,12,13,14,15,16,17,18,19,20,21],
                         "title": "Otevřené oči", "titleColor": "#0000ff", "titleAlign": "center", "titleBaseline": "middle", "titleX": 266, "titleY": -86,
                         "labels": true, "labelExpr": "datum.value == 20 ? '20 s' : ''", "labelAlign": "left", "labelBaseline": "middle", "labelPadding": 16,
                         "encode": {"ticks": {"y": {"condition": {"test": "datum.value % 5 == 0", "value": -6}, "value": -2.5}, "y2": {"condition": {"test": "datum.value % 5 == 0", "value": 6}, "value": 2.5}}}}},
          "y": {"field": "ap_o", "type": "quantitative", "scale": {"domain": [-22, 22], "range": [171.7, 11.7], "nice": false},
                "axis": {"orient": "left", "offset": -200.3, "values": [-22,-20,-18,-16,-14,-12,-10,-8,-6,-4,-2,0,2,4,6,8,10,12,14,16,18,20,22],
                         "title": "Ant-Post: 1 dílek = 2,00 mm", "titleAngle": 0, "titleAlign": "left", "titleBaseline": "middle", "titleX": 3.4, "titleY": 20.7,
                         "encode": {"ticks": {"x": {"condition": {"test": "abs(datum.value) % 10 < 0.01", "value": -4}, "value": -2}, "x2": {"condition": {"test": "abs(datum.value) % 10 < 0.01", "value": 4}, "value": 2}}}}}
        }
      },
      {
        "data": {"name": "ev_2mm"},
        "mark": {"type": "rule"},
        "encoding": {
          "x": {"field": "t", "type": "quantitative", "scale": {"domain": [0, 21.6], "range": [200.3, 376.8], "nice": false}, "axis": null},
          "y": {"field": "lo", "type": "quantitative", "scale": {"domain": [-22, 22], "range": [171.7, 11.7], "nice": false}, "axis": null},
          "y2": {"field": "hi"},
          "color": {"condition": {"test": "datum.t == 0", "value": "#ff0000"}, "value": "#f08080"},
          "strokeWidth": {"condition": {"test": "datum.t == 0", "value": 1.5}, "value": 2}
        }
      },
      {
        "data": {"name": "ts"},
        "mark": {"type": "line", "color": "#000000", "strokeWidth": 1},
        "encoding": {
          "x": {"field": "t", "type": "quantitative", "scale": {"domain": [0, 21.6], "range": [9.7, 186.2], "nice": false},
                "axis": {"orient": "bottom", "offset": -88.3, "title": null, "values": [0,1,2,3,4,5,6,7,8,9,10,11,12,13,14,15,16,17,18,19,20,21],
                         "labels": true, "labelExpr": "datum.value == 20 ? '20 s' : ''", "labelAlign": "left", "labelBaseline": "middle", "labelPadding": 16,
                         "encode": {"ticks": {"y": {"condition": {"test": "datum.value % 5 == 0", "value": -6}, "value": -2.5}, "y2": {"condition": {"test": "datum.value % 5 == 0", "value": 6}, "value": 2.5}}}}},
          "y": {"field": "lat_c", "type": "quantitative", "scale": {"domain": [-22, 22], "range": [361.7, 201.7], "nice": false},
                "axis": {"orient": "left", "offset": -9.7, "values": [-22,-20,-18,-16,-14,-12,-10,-8,-6,-4,-2,0,2,4,6,8,10,12,14,16,18,20,22],
                         "title": "LAT: 1 dílek = 2,00 mm", "titleAngle": 0, "titleAlign": "left", "titleBaseline": "middle", "titleX": 3.3, "titleY": 210.7,
                         "encode": {"ticks": {"x": {"condition": {"test": "abs(datum.value) % 10 < 0.01", "value": -4}, "value": -2}, "x2": {"condition": {"test": "abs(datum.value) % 10 < 0.01", "value": 4}, "value": 2}}}}}
        }
      },
      {
        "data": {"name": "ev_2mm"},
        "mark": {"type": "rule"},
        "encoding": {
          "x": {"field": "t", "type": "quantitative", "scale": {"domain": [0, 21.6], "range": [9.7, 186.2], "nice": false}, "axis": null},
          "y": {"field": "lo", "type": "quantitative", "scale": {"domain": [-22, 22], "range": [361.7, 201.7], "nice": false}, "axis": null},
          "y2": {"field": "hi"},
          "color": {"condition": {"test": "datum.t == 0", "value": "#ff0000"}, "value": "#f08080"},
          "strokeWidth": {"condition": {"test": "datum.t == 0", "value": 1.5}, "value": 2}
        }
      },
      {
        "data": {"name": "ts"},
        "mark": {"type": "line", "color": "#000000", "strokeWidth": 1},
        "encoding": {
          "x": {"field": "t", "type": "quantitative", "scale": {"domain": [0, 21.6], "range": [200.3, 376.8], "nice": false},
                "axis": {"orient": "bottom", "offset": -88.3, "values": [0,1,2,3,4,5,6,7,8,9,10,11,12,13,14,15,16,17,18,19,20,21],
                         "title": "Zavřené oči", "titleColor": "#000000", "titleAlign": "center", "titleBaseline": "middle", "titleX": 265.5, "titleY": -86.7,
                         "labels": true, "labelExpr": "datum.value == 20 ? '20 s' : ''", "labelAlign": "left", "labelBaseline": "middle", "labelPadding": 16,
                         "encode": {"ticks": {"y": {"condition": {"test": "datum.value % 5 == 0", "value": -6}, "value": -2.5}, "y2": {"condition": {"test": "datum.value % 5 == 0", "value": 6}, "value": 2.5}}}}},
          "y": {"field": "ap_c", "type": "quantitative", "scale": {"domain": [-22, 22], "range": [361.7, 201.7], "nice": false},
                "axis": {"orient": "left", "offset": -200.3, "values": [-22,-20,-18,-16,-14,-12,-10,-8,-6,-4,-2,0,2,4,6,8,10,12,14,16,18,20,22],
                         "title": "Ant-Post: 1 dílek = 2,00 mm", "titleAngle": 0, "titleAlign": "left", "titleBaseline": "middle", "titleX": 3.4, "titleY": 210.7,
                         "encode": {"ticks": {"x": {"condition": {"test": "abs(datum.value) % 10 < 0.01", "value": -4}, "value": -2}, "x2": {"condition": {"test": "abs(datum.value) % 10 < 0.01", "value": 4}, "value": 2}}}}}
        }
      },
      {
        "data": {"name": "ev_2mm"},
        "mark": {"type": "rule"},
        "encoding": {
          "x": {"field": "t", "type": "quantitative", "scale": {"domain": [0, 21.6], "range": [200.3, 376.8], "nice": false}, "axis": null},
          "y": {"field": "lo", "type": "quantitative", "scale": {"domain": [-22, 22], "range": [361.7, 201.7], "nice": false}, "axis": null},
          "y2": {"field": "hi"},
          "color": {"condition": {"test": "datum.t == 0", "value": "#ff0000"}, "value": "#f08080"},
          "strokeWidth": {"condition": {"test": "datum.t == 0", "value": 1.5}, "value": 2}
        }
      },
      {
        "data": {"name": "spec"},
        "mark": {"type": "bar", "color": "#0000ff", "size": 2, "orient": "vertical"},
        "encoding": {
          "x": {"field": "f", "type": "quantitative", "scale": {"type": "log", "domain": [0.1, 10], "range": [390.3, 553.3], "nice": false},
                "axis": {"orient": "bottom", "offset": -289.3, "title": null, "values": [0.1,0.2,0.3,0.4,0.5,0.6,0.7,0.8,0.9,1,2,3,4,5,6,7,8,9,10],
                         "labels": true, "labelExpr": "datum.value == 1 ? '1' : datum.value == 5 ? '5' : datum.value == 10 ? '10' : ''",
                         "labelAlign": {"condition": {"test": "datum.value >= 10", "value": "right"}, "value": "center"}, "labelBaseline": "middle", "tickSize": 4, "labelPadding": 10,
                         "encode": {"ticks": {"y2": {"condition": {"test": "datum.value == 1 || datum.value == 5 || datum.value == 10", "value": 7}, "value": 4}}}}},
          "y": {"field": "lat_o", "type": "quantitative", "scale": {"domain": [0, 100], "range": [80.7, 7.3], "nice": false},
                "axis": {"orient": "left", "offset": -390.3, "values": [0,10,20,30,40,50,60,70,80,90,100], "tickSize": 2,
                         "title": "LAT", "titleAngle": 0, "titleAlign": "left", "titleBaseline": "middle", "titleX": 14.4, "titleY": 18,
                         "labels": true, "labelExpr": "datum.value == 100 ? '100 %' : ''", "labelAlign": "left", "labelBaseline": "middle", "labelPadding": -8, "labelOffset": -3}}
        }
      },
      {
        "data": {"name": "spec"},
        "mark": {"type": "bar", "color": "#0000ff", "size": 2, "orient": "vertical"},
        "encoding": {
          "x": {"field": "f", "type": "quantitative", "scale": {"type": "log", "domain": [0.1, 10], "range": [390.3, 553.3], "nice": false},
                "axis": {"orient": "bottom", "offset": -198.3, "title": null, "values": [0.1,0.2,0.3,0.4,0.5,0.6,0.7,0.8,0.9,1,2,3,4,5,6,7,8,9,10],
                         "labels": true, "labelExpr": "datum.value == 1 ? '1' : datum.value == 5 ? '5' : datum.value == 10 ? '10' : ''",
                         "labelAlign": {"condition": {"test": "datum.value >= 10", "value": "right"}, "value": "center"}, "labelBaseline": "middle", "tickSize": 4, "labelPadding": 10,
                         "encode": {"ticks": {"y2": {"condition": {"test": "datum.value == 1 || datum.value == 5 || datum.value == 10", "value": 7}, "value": 4}}}}},
          "y": {"field": "ap_o", "type": "quantitative", "scale": {"domain": [0, 100], "range": [171.7, 98.3], "nice": false},
                "axis": {"orient": "left", "offset": -390.3, "values": [0,10,20,30,40,50,60,70,80,90,100], "tickSize": 2,
                         "title": "Ant-Post", "titleAngle": 0, "titleAlign": "left", "titleBaseline": "middle", "titleX": 13.7, "titleY": 109,
                         "labels": true, "labelExpr": "datum.value == 100 ? '100 %' : ''", "labelAlign": "left", "labelBaseline": "middle", "labelPadding": -8, "labelOffset": -3}}
        }
      },
      {
        "data": {"name": "spec"},
        "mark": {"type": "bar", "color": "#000000", "size": 2, "orient": "vertical"},
        "encoding": {
          "x": {"field": "f", "type": "quantitative", "scale": {"type": "log", "domain": [0.1, 10], "range": [390.3, 553.3], "nice": false},
                "axis": {"orient": "bottom", "offset": -108.3, "title": null, "values": [0.1,0.2,0.3,0.4,0.5,0.6,0.7,0.8,0.9,1,2,3,4,5,6,7,8,9,10],
                         "labels": true, "labelExpr": "datum.value == 1 ? '1' : datum.value == 5 ? '5' : datum.value == 10 ? '10' : ''",
                         "labelAlign": {"condition": {"test": "datum.value >= 10", "value": "right"}, "value": "center"}, "labelBaseline": "middle", "tickSize": 4, "labelPadding": 10,
                         "encode": {"ticks": {"y2": {"condition": {"test": "datum.value == 1 || datum.value == 5 || datum.value == 10", "value": 7}, "value": 4}}}}},
          "y": {"field": "lat_c", "type": "quantitative", "scale": {"domain": [0, 100], "range": [261.7, 188.3], "nice": false},
                "axis": {"orient": "left", "offset": -390.3, "values": [0,10,20,30,40,50,60,70,80,90,100], "tickSize": 2,
                         "title": "LAT", "titleAngle": 0, "titleAlign": "left", "titleBaseline": "middle", "titleX": 14.4, "titleY": 199,
                         "labels": true, "labelExpr": "datum.value == 100 ? '100 %' : ''", "labelAlign": "left", "labelBaseline": "middle", "labelPadding": -8, "labelOffset": -3}}
        }
      },
      {
        "data": {"name": "spec"},
        "mark": {"type": "bar", "color": "#000000", "size": 2, "orient": "vertical"},
        "encoding": {
          "x": {"field": "f", "type": "quantitative", "scale": {"type": "log", "domain": [0.1, 10], "range": [390.3, 553.3], "nice": false},
                "axis": {"orient": "bottom", "offset": -16.7, "title": null, "values": [0.1,0.2,0.3,0.4,0.5,0.6,0.7,0.8,0.9,1,2,3,4,5,6,7,8,9,10],
                         "labels": true, "labelExpr": "datum.value == 1 ? '1' : datum.value == 5 ? '5' : datum.value == 10 ? '10' : ''",
                         "labelAlign": {"condition": {"test": "datum.value >= 10", "value": "right"}, "value": "center"}, "labelBaseline": "middle", "tickSize": 4, "labelPadding": 10,
                         "encode": {"ticks": {"y2": {"condition": {"test": "datum.value == 1 || datum.value == 5 || datum.value == 10", "value": 7}, "value": 4}}}}},
          "y": {"field": "ap_c", "type": "quantitative", "scale": {"domain": [0, 100], "range": [353.3, 280], "nice": false},
                "axis": {"orient": "left", "offset": -390.3, "values": [0,10,20,30,40,50,60,70,80,90,100], "tickSize": 2,
                         "title": "Ant-Post", "titleAngle": 0, "titleAlign": "left", "titleBaseline": "middle", "titleX": 13.7, "titleY": 299.3,
                         "labels": true, "labelExpr": "datum.value == 100 ? '100 %' : ''", "labelAlign": "left", "labelBaseline": "middle", "labelPadding": -8, "labelOffset": -3}}
        }
      }
    ]
  }
]
}
